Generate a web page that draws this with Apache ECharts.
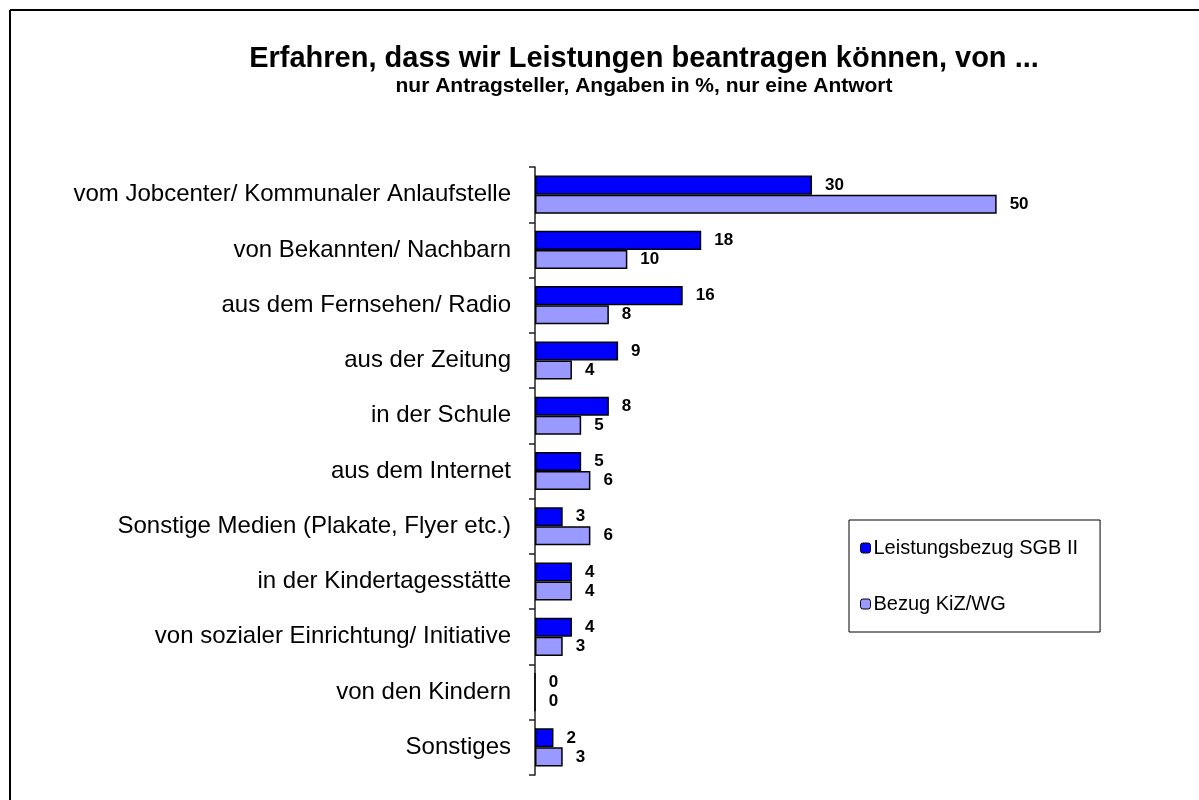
<!DOCTYPE html>
<html lang="de">
<head>
<meta charset="utf-8">
<style>
  html, body { margin: 0; padding: 0; background: #fff; }
  #chart { width: 1199px; height: 800px; }
</style>
</head>
<body>
<div id="chart"></div>
<script src="https://cdn.jsdelivr.net/npm/echarts@6/dist/echarts.min.js"></script>
<script>
// Kategorien (von oben nach unten)
var categories = [
  'vom Jobcenter/ Kommunaler Anlaufstelle',
  'von Bekannten/ Nachbarn',
  'aus dem Fernsehen/ Radio',
  'aus der Zeitung',
  'in der Schule',
  'aus dem Internet',
  'Sonstige Medien (Plakate, Flyer etc.)',
  'in der Kindertagesstätte',
  'von sozialer Einrichtung/ Initiative',
  'von den Kindern',
  'Sonstiges'
];
var seriesNames = ['Leistungsbezug SGB II', 'Bezug KiZ/WG'];
var sgb2 = [30, 18, 16, 9, 8, 5, 3, 4, 4, 0, 2];
var kizwg = [50, 10, 8, 4, 5, 6, 6, 4, 3, 0, 3];

var font = 'Arial, "Liberation Sans", sans-serif';
var chart = echarts.init(document.getElementById('chart'));

var valueLabel = {
  show: true,
  position: 'right',
  distance: 13,
  fontFamily: font,
  fontSize: 17,
  fontWeight: 'bold',
  color: '#000'
};

chart.setOption({
  animation: false,
  backgroundColor: '#fff',
  title: {
    text: 'Erfahren, dass wir Leistungen beantragen können, von ...',
    subtext: 'nur Antragsteller, Angaben in %, nur eine Antwort',
    left: 639,
    top: 39,
    textAlign: 'center',
    itemGap: 3,
    textStyle: { fontFamily: font, fontSize: 29, fontWeight: 'bold', color: '#000' },
    subtextStyle: { fontFamily: font, fontSize: 21, fontWeight: 'bold', color: '#000' }
  },
  legend: {
    orient: 'vertical',
    left: 849,
    top: 520,
    padding: [18, 22, 18, 11],
    itemGap: 36,
    itemWidth: 10,
    itemHeight: 10,
    itemStyle: { borderColor: '#000', borderWidth: 1 },
    borderColor: '#000',
    borderWidth: 1,
    textStyle: { fontFamily: font, fontSize: 20, color: '#000', padding: [0, 0, 0, -2] },
    data: seriesNames
  },
  grid: { left: 535, top: 167, width: 554, height: 608, containLabel: false },
  xAxis: { type: 'value', min: 0, max: 60, show: false },
  yAxis: {
    type: 'category',
    inverse: true,
    data: categories,
    axisLine: { lineStyle: { color: '#222', width: 1.5 } },
    axisTick: { show: true, length: 6, lineStyle: { color: '#222', width: 1.5 } },
    axisLabel: { fontFamily: font, fontSize: 24, color: '#000', margin: 24 },
    splitLine: { show: false }
  },
  series: [
    {
      name: seriesNames[0],
      type: 'bar',
      data: sgb2,
      barGap: '0%',
      barCategoryGap: '31%',
      itemStyle: { color: '#0000FF', borderColor: '#000', borderWidth: 1.5 },
      label: valueLabel
    },
    {
      name: seriesNames[1],
      type: 'bar',
      data: kizwg,
      itemStyle: { color: '#9999FF', borderColor: '#000', borderWidth: 1.5 },
      label: valueLabel
    }
  ],
  graphic: [
    { type: 'line', shape: { x1: 10, y1: 10, x2: 1199, y2: 10 }, style: { stroke: '#000', lineWidth: 2 } },
    { type: 'line', shape: { x1: 10, y1: 10, x2: 10, y2: 800 }, style: { stroke: '#000', lineWidth: 2 } }
  ]
});
</script>
</body>
</html>
